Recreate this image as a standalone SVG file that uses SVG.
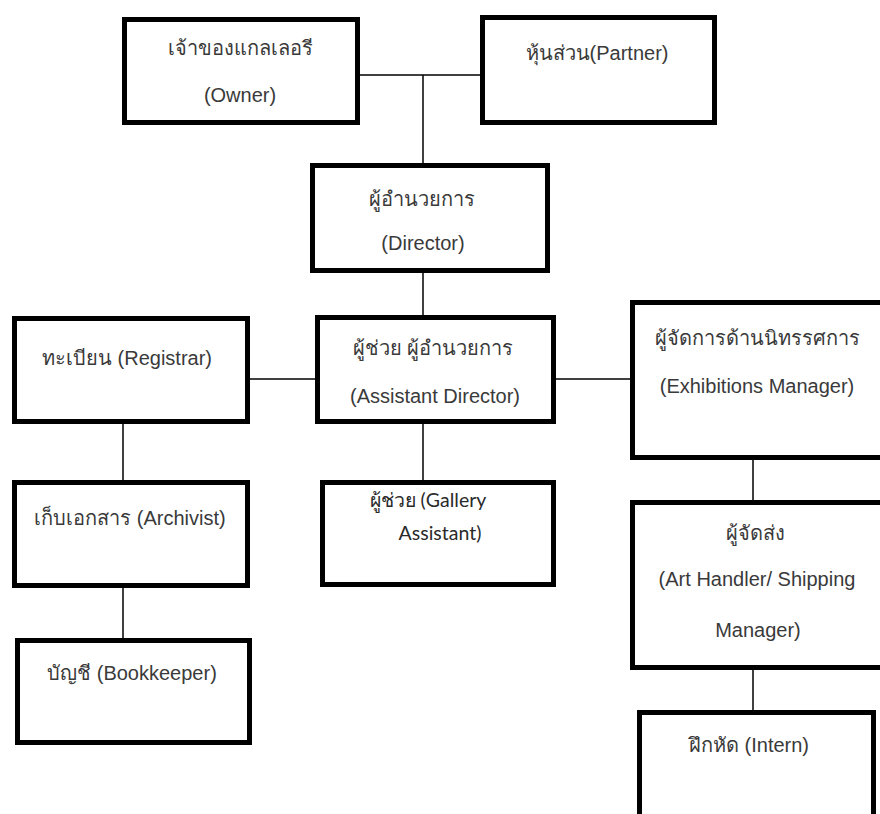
<svg xmlns="http://www.w3.org/2000/svg" width="880" height="814" viewBox="0 0 880 814">
  <style>
    .box { fill: #ffffff; stroke: #000000; stroke-width: 5; }
    .lbl { font-family: "Liberation Sans", "Noto Sans", sans-serif; font-size: 20px; fill: #3a3a3a; }
    .mid { text-anchor: middle; }
    .alt { font-family: Lato, "Noto Sans", sans-serif; font-size: 19.5px; fill: #2a2a2a; }
    .link { stroke: #000000; stroke-width: 1.5; fill: none; }
  </style>
  <rect width="880" height="814" fill="#ffffff"/>

  <!-- connectors -->
  <g id="connectors">
    <line class="link" x1="360" y1="75" x2="480" y2="75"/>
    <line class="link" x1="423" y1="75" x2="423" y2="163"/>
    <line class="link" x1="423" y1="273" x2="423" y2="315"/>
    <line class="link" x1="250" y1="379" x2="315" y2="379"/>
    <line class="link" x1="556" y1="379" x2="630" y2="379"/>
    <line class="link" x1="423" y1="424" x2="423" y2="480"/>
    <line class="link" x1="123" y1="424" x2="123" y2="480"/>
    <line class="link" x1="123" y1="588" x2="123" y2="638"/>
    <line class="link" x1="753" y1="460" x2="753" y2="500"/>
    <line class="link" x1="753" y1="670" x2="753" y2="710"/>
  </g>

  <g id="owner">
    <rect class="box" x="124.5" y="19.5" width="233" height="103"/>
    <text class="lbl" x="168" y="55">เจ้าของแกลเลอรี</text>
    <text class="lbl mid" x="240" y="102">(Owner)</text>
  </g>

  <g id="partner">
    <rect class="box" x="482.5" y="17.5" width="232" height="105"/>
    <text class="lbl mid" x="597" y="60">หุ้นส่วน(Partner)</text>
  </g>

  <g id="director">
    <rect class="box" x="312.5" y="165.5" width="235" height="105"/>
    <text class="lbl mid" x="422" y="206">ผู้อำนวยการ</text>
    <text class="lbl mid" x="423" y="250">(Director)</text>
  </g>

  <g id="registrar">
    <rect class="box" x="14.5" y="318.5" width="233" height="103"/>
    <text class="lbl mid" x="127" y="365">ทะเบียน (Registrar)</text>
  </g>

  <g id="assistant-director">
    <rect class="box" x="317.5" y="317.5" width="236" height="104"/>
    <text class="lbl mid" x="433" y="355">ผู้ช่วย ผู้อำนวยการ</text>
    <text class="lbl mid" x="435" y="403">(Assistant Director)</text>
  </g>

  <!-- the two right-hand boxes run past the right edge of the sheet -->
  <g id="exhibitions-manager">
    <rect class="box" x="632.5" y="302.5" width="260" height="155"/>
    <text class="lbl mid" x="757" y="345">ผู้จัดการด้านนิทรรศการ</text>
    <text class="lbl mid" x="757" y="393">(Exhibitions Manager)</text>
  </g>

  <g id="archivist">
    <rect class="box" x="14.5" y="482.5" width="233" height="103"/>
    <text class="lbl mid" x="130" y="525">เก็บเอกสาร (Archivist)</text>
  </g>

  <g id="bookkeeper">
    <rect class="box" x="17.5" y="640.5" width="232" height="102"/>
    <text class="lbl mid" x="132" y="680">บัญชี (Bookkeeper)</text>
  </g>

  <g id="gallery-assistant">
    <rect class="box" x="322.5" y="482.5" width="231" height="102"/>
    <text class="alt mid" x="428" y="507">ผู้ช่วย (Gallery</text>
    <text class="alt mid" x="440" y="540">Assistant)</text>
  </g>

  <g id="art-handler">
    <rect class="box" x="632.5" y="502.5" width="260" height="165"/>
    <text class="lbl mid" x="755" y="540">ผู้จัดส่ง</text>
    <text class="lbl mid" x="757" y="586">(Art Handler/ Shipping</text>
    <text class="lbl mid" x="758" y="637">Manager)</text>
  </g>

  <g id="intern">
    <rect class="box" x="639.5" y="712.5" width="234" height="120"/>
    <text class="lbl mid" x="749" y="752">ฝึกหัด (Intern)</text>
  </g>
</svg>
